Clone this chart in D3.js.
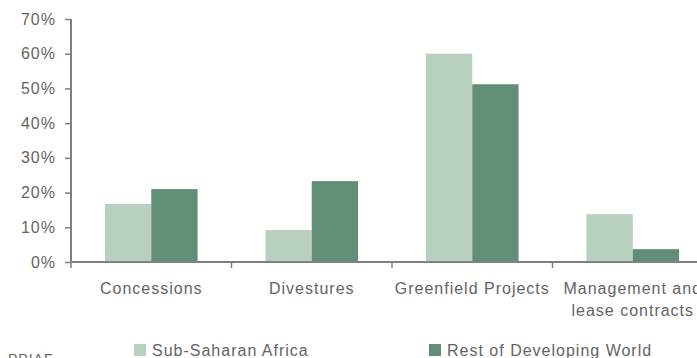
<!DOCTYPE html>
<html>
<head>
<meta charset="utf-8">
<script src="https://cdn.jsdelivr.net/npm/d3@7"></script>
<style>
  html, body { margin: 0; padding: 0; background: #fff; }
  svg { display: block; }
  text { font-family: "Liberation Sans", Arial, sans-serif; fill: #646464; letter-spacing: 1px; }
</style>
</head>
<body>
<svg id="chart" width="697" height="358"></svg>
<script>
// Share of private participation projects by type
const categories = ["Concessions", "Divestures", "Greenfield Projects", "Management and|lease contracts"];
const seriesNames = ["Sub-Saharan Africa", "Rest of Developing World"];
const subSaharanAfrica = [16.7, 9.2, 60.0, 13.8];
const restOfDevelopingWorld = [21.0, 23.3, 51.2, 3.7];
const yTicks = [0, 10, 20, 30, 40, 50, 60, 70];
const colors = ["#b8d0c0", "#628d76"];

const svg = d3.select("#chart");
const axisColor = "#808080";

const x = d3.scaleBand().domain(categories).range([71, 713]).paddingInner(0).paddingOuter(0);
const xInner = d3.scaleBand().domain(seriesNames).range([0, x.bandwidth()]).paddingInner(0).paddingOuter(0.733);
const y = d3.scaleLinear().domain([0, 70]).range([262, 19]);

const series = [subSaharanAfrica, restOfDevelopingWorld];

// Bars
const groups = svg.append("g").selectAll("g")
  .data(categories)
  .join("g")
  .attr("transform", d => `translate(${x(d)},0)`);

groups.selectAll("rect")
  .data((d, i) => seriesNames.map((s, j) => ({ s, v: series[j][i], c: colors[j] })))
  .join("rect")
  .attr("x", d => xInner(d.s))
  .attr("width", xInner.bandwidth())
  .attr("y", d => y(d.v))
  .attr("height", d => y(0) - y(d.v))
  .attr("fill", d => d.c);

// Y axis
const yAxis = svg.append("g")
  .attr("transform", "translate(71,0)")
  .call(d3.axisLeft(y).tickValues(yTicks).tickFormat(d => d + "%").tickSize(6).tickPadding(9));
yAxis.select(".domain").attr("stroke", axisColor).attr("stroke-width", 2).attr("d", `M0,${y(70)}V${y(0)}`);
yAxis.selectAll(".tick line").attr("stroke", axisColor).attr("stroke-width", 1.5);
yAxis.selectAll(".tick text").attr("font-size", 16).attr("fill", "#646464");

// X axis line
svg.append("line")
  .attr("x1", 70).attr("x2", 697)
  .attr("y1", y(0)).attr("y2", y(0))
  .attr("stroke", axisColor).attr("stroke-width", 2);

// Category boundary ticks
const boundaries = categories.map(c => x(c)).concat([x.range()[1]]);
svg.append("g").selectAll("line")
  .data(boundaries)
  .join("line")
  .attr("x1", d => d).attr("x2", d => d)
  .attr("y1", y(0)).attr("y2", y(0) + 6)
  .attr("stroke", axisColor).attr("stroke-width", 1.5);

// Category labels (wrapped on "|")
const labels = svg.append("g").selectAll("text")
  .data(categories)
  .join("text")
  .attr("x", d => x(d) + x.bandwidth() / 2)
  .attr("y", 294)
  .attr("text-anchor", "middle")
  .attr("font-size", 16);
labels.each(function(d) {
  const parts = d.split("|");
  const t = d3.select(this);
  const cx = x(d) + x.bandwidth() / 2;
  parts.forEach((p, i) => {
    t.append("tspan").attr("x", cx).attr("dy", i === 0 ? 0 : 22).text(p);
  });
});

// Legend
const legendX = [134, 429];
const legend = svg.append("g").selectAll("g")
  .data(seriesNames)
  .join("g")
  .attr("transform", (d, i) => `translate(${legendX[i]},344)`);
legend.append("rect").attr("width", 12).attr("height", 12).attr("fill", (d, i) => colors[i]);
legend.append("text").attr("x", 18).attr("y", 11.5).attr("font-size", 16).text(d => d);

// Source note
svg.append("text").attr("x", 8).attr("y", 364).attr("font-size", 14).text("PPIAF");
</script>
</body>
</html>
